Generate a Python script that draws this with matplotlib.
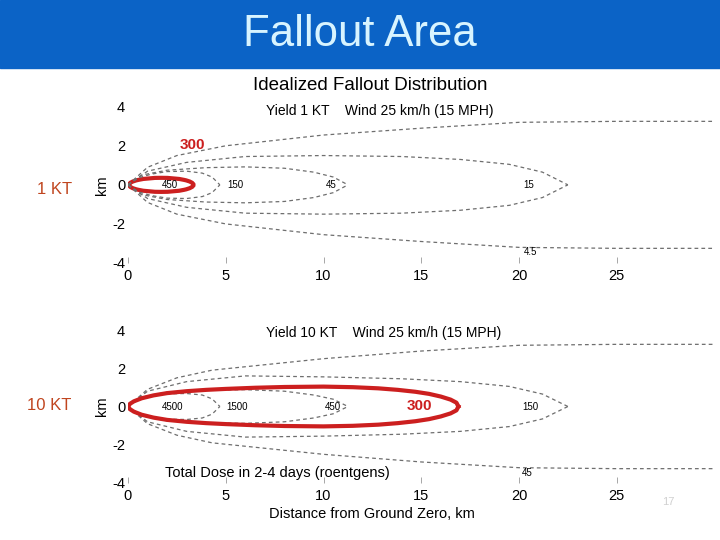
import matplotlib.pyplot as plt
import numpy as np
from matplotlib.patches import Ellipse

plt.rcParams['font.family'] = ['Liberation Sans', 'DejaVu Sans']
plt.rcParams['axes.unicode_minus'] = False

# dose contours, (distance km, half-width km)
# 1 KT panel
c1_450_x = [0, 0.5, 1.2, 2.0, 3.0, 3.8, 4.3, 4.7]
c1_450_w = [0, 0.35, 0.55, 0.68, 0.7, 0.6, 0.4, 0]
c1_150_x = [0, 0.7, 2, 4, 6, 8, 9.5, 10.5, 11.25]
c1_150_w = [0, 0.5, 0.75, 0.88, 0.92, 0.85, 0.65, 0.4, 0]
c1_45_x = [0, 1, 3, 6, 10, 14, 17, 19.5, 21.2, 22.5]
c1_45_w = [0, 0.7, 1.15, 1.45, 1.5, 1.45, 1.3, 1.05, 0.65, 0]
c1_15_x = [0, 1, 2.5, 4, 5, 10, 15, 20, 25, 31]
c1_15_w = [0, 0.9, 1.5, 1.8, 2.0, 2.55, 2.9, 3.2, 3.25, 3.25]
# red 300 mark on 1 KT panel (centre x, length, height)
red1 = (1.7, 3.3, 0.72)

# 10 KT panel
c10_4500_x = [0, 0.5, 1.2, 2.0, 3.0, 3.8, 4.3, 4.7]
c10_4500_w = [0, 0.35, 0.55, 0.66, 0.68, 0.6, 0.4, 0]
c10_1500_x = [0, 0.7, 2, 4, 6, 8, 9.5, 10.5, 11.25]
c10_1500_w = [0, 0.5, 0.75, 0.85, 0.88, 0.8, 0.6, 0.38, 0]
c10_300_x = [0, 0.1, 0.3, 0.7, 1.3, 2.0, 3.0, 4.0, 5.0, 6.5, 8.0, 10.0, 11.5, 12.8, 13.8,
             14.7, 15.4, 16.0, 16.5, 16.8, 16.9]
c10_300_w = [0, 0.14, 0.27, 0.43, 0.58, 0.7, 0.8, 0.87, 0.92, 0.98, 1.02, 1.04, 1.01, 0.95, 0.87,
             0.77, 0.66, 0.52, 0.36, 0.2, 0]
c10_150_x = [0, 1, 3, 6, 10, 14, 17, 19.5, 21.2, 22.5]
c10_150_w = [0, 0.8, 1.3, 1.6, 1.55, 1.45, 1.3, 1.05, 0.65, 0]
c10_45_x = [0, 1, 2.5, 4.3, 10, 15, 20, 25, 31]
c10_45_w = [0, 0.9, 1.5, 1.9, 2.5, 2.9, 3.2, 3.25, 3.25]

# contour labels (text, x, y)
labels1 = [("450", 2.15, 0), ("150", 5.5, 0), ("45", 10.4, 0), ("15", 20.5, 0), ("4.5", 20.6, -3.45)]
labels10 = [("4500", 2.3, 0), ("1500", 5.6, 0), ("450", 10.5, 0), ("150", 20.6, 0), ("45", 20.4, -3.5)]

xticks = [0, 5, 10, 15, 20, 25]
yticks = [4, 2, 0, -2, -4]

gray = '#6e6e6e'
red = '#cc1f1f'
orange = '#c0451f'

fig = plt.figure(figsize=(7.2, 5.4), dpi=100)
fig.patch.set_facecolor('white')

# blue slide header
fig.patches.append(plt.Rectangle((0, 1 - 68 / 540), 1, 68 / 540, transform=fig.transFigure,
                                 color='#0b63c6', zorder=0))
fig.text(0.5, 1 - 34 / 540, "Fallout Area", color='#d8f4ff', fontsize=31.5,
         ha='center', va='center')


def setup(ax):
    for s in ax.spines.values():
        s.set_visible(False)
    ax.set_xlim(0, 30)
    ax.set_ylim(-4, 4)
    ax.set_xticks(xticks)
    ax.set_yticks(yticks)
    ax.tick_params(axis='x', direction='in', length=4, width=0.6, color='#999999',
                   labelsize=10.5, pad=4)
    ax.tick_params(axis='y', direction='in', length=0, labelsize=10.5, pad=2)


def contour(ax, xs, ws, **kw):
    xs = np.asarray(xs)
    ws = np.asarray(ws)
    ax.plot(xs, ws, **kw)
    ax.plot(xs, -ws, **kw)


dash = dict(color=gray, lw=0.9, linestyle=(0, (3, 2.5)))

ax1 = fig.add_axes([128 / 720, 1 - 263 / 540, 586.5 / 720, 156.3 / 540])
setup(ax1)
for xs, ws in [(c1_450_x, c1_450_w), (c1_150_x, c1_150_w), (c1_45_x, c1_45_w), (c1_15_x, c1_15_w)]:
    contour(ax1, xs, ws, **dash)
ax1.add_patch(Ellipse((red1[0], 0), red1[1], red1[2], fill=False, edgecolor=red, lw=3))
for t, x, y in labels1:
    ax1.text(x, y, t, fontsize=7, ha='center', va='center')
ax1.text(3.3, 2.05, "300", color=red, fontsize=11, fontweight='bold', ha='center', va='center')
ax1.set_ylabel("km", fontsize=10.5, labelpad=2)

ax2 = fig.add_axes([128 / 720, 1 - 483 / 540, 586.5 / 720, 153 / 540])
setup(ax2)
for xs, ws in [(c10_4500_x, c10_4500_w), (c10_1500_x, c10_1500_w), (c10_150_x, c10_150_w), (c10_45_x, c10_45_w)]:
    contour(ax2, xs, ws, **dash)
contour(ax2, c10_300_x, c10_300_w, color=red, lw=3, solid_joinstyle='round')
for t, x, y in labels10:
    ax2.text(x, y, t, fontsize=7, ha='center', va='center')
ax2.text(14.9, 0, "300", color=red, fontsize=11, fontweight='bold', ha='center', va='center')
ax2.set_ylabel("km", fontsize=10.5, labelpad=2)

# scan texts
fig.text(370 / 720, 1 - 85 / 540, "Idealized Fallout Distribution", fontsize=13.5, ha='center', va='center')
fig.text(380 / 720, 1 - 111 / 540, "Yield 1 KT    Wind 25 km/h (15 MPH)", fontsize=10, ha='center', va='center')
fig.text(384 / 720, 1 - 333 / 540, "Yield 10 KT    Wind 25 km/h (15 MPH)", fontsize=10, ha='center', va='center')
fig.text(165 / 720, 1 - 473 / 540, "Total Dose in 2-4 days (roentgens)", fontsize=10.5, ha='left', va='center')
fig.text(372 / 720, 1 - 514 / 540, "Distance from Ground Zero, km", fontsize=10.5, ha='center', va='center')

fig.text(55 / 720, 1 - 189 / 540, "1 KT", color=orange, fontsize=12, ha='center', va='center')
fig.text(49 / 720, 1 - 405 / 540, "10 KT", color=orange, fontsize=12, ha='center', va='center')
fig.text(668 / 720, 1 - 502 / 540, "17", color='#d0d0d0', fontsize=8, ha='center', va='center')

fig.savefig("out.png", dpi=100)
